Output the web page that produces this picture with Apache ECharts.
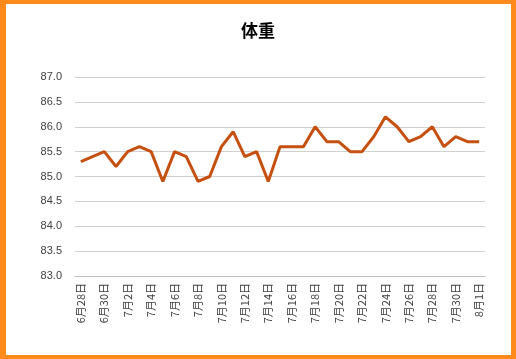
<!DOCTYPE html>
<html>
<head>
<meta charset="utf-8">
<script src="https://cdn.jsdelivr.net/npm/echarts@6/dist/echarts.min.js"></script>
<style>
html,body{margin:0;padding:0;background:#fff;}
#c{width:516px;height:359px;}
</style>
</head>
<body>
<div id="c"></div>
<script>
const titleText = '体重';
const categories = [
  '6月28日','6月29日','6月30日',
  '7月1日','7月2日','7月3日','7月4日','7月5日','7月6日','7月7日','7月8日','7月9日','7月10日',
  '7月11日','7月12日','7月13日','7月14日','7月15日','7月16日','7月17日','7月18日','7月19日','7月20日',
  '7月21日','7月22日','7月23日','7月24日','7月25日','7月26日','7月27日','7月28日','7月29日','7月30日',
  '7月31日','8月1日'
];
const weights = [
  85.3, 85.4, 85.5, 85.2, 85.5, 85.6, 85.5, 84.9, 85.5, 85.4,
  84.9, 85.0, 85.6, 85.9, 85.4, 85.5, 84.9, 85.6, 85.6, 85.6,
  86.0, 85.7, 85.7, 85.5, 85.5, 85.8, 86.2, 86.0, 85.7, 85.8,
  86.0, 85.6, 85.8, 85.7, 85.7
];
const yMin = 83.0, yMax = 87.0, yStep = 0.5;

const chart = echarts.init(document.getElementById('c'));
chart.setOption({
  backgroundColor: '#FF8A1C',
  animation: false,
  graphic: [{
    type: 'rect', z: -100, silent: true,
    shape: {x: 6, y: 4, width: 505, height: 351},
    style: {fill: '#ffffff'}
  }],
  title: {
    text: titleText, left: 'center', top: 17,
    textStyle: {fontSize: 17, fontWeight: 'bold', color: '#000', fontFamily: 'Noto Sans CJK SC'}
  },
  grid: {left: 75, right: 31, top: 77, bottom: 83},
  xAxis: {
    type: 'category', data: categories, boundaryGap: true,
    axisLine: {lineStyle: {color: '#bfbfbf', width: 1}},
    axisTick: {interval: 1, length: 5, lineStyle: {color: '#bfbfbf'}},
    axisLabel: {interval: 1, rotate: 90, margin: 7, fontSize: 11, color: '#404040', fontFamily: 'Noto Sans CJK SC'}
  },
  yAxis: {
    type: 'value', min: yMin, max: yMax, interval: yStep,
    axisLine: {show: false}, axisTick: {show: false},
    axisLabel: {margin: 13, fontSize: 11, color: '#404040', fontFamily: 'Liberation Sans',
      formatter: v => v.toFixed(1)},
    splitLine: {lineStyle: {color: '#d0d0d0', width: 1}}
  },
  series: [{
    type: 'line', data: weights, showSymbol: false, symbol: 'none',
    lineStyle: {color: '#C5500F', width: 3}, itemStyle: {color: '#C5500F'}
  }]
});
</script>
</body>
</html>
